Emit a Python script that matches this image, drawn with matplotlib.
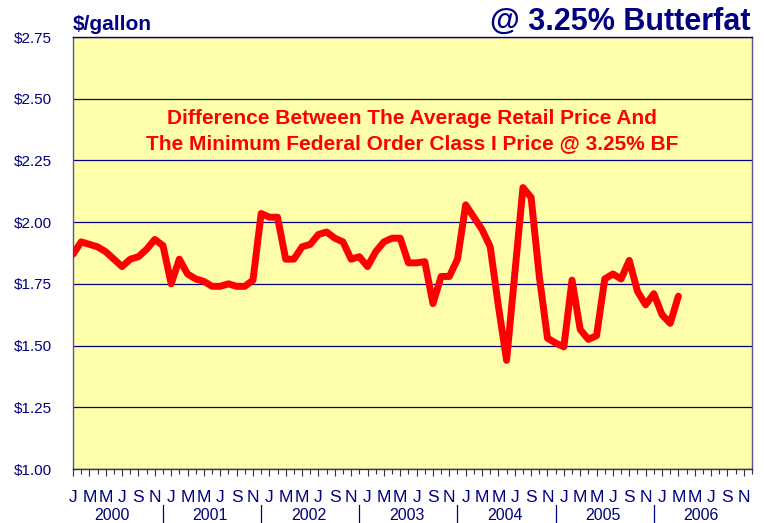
import matplotlib
matplotlib.use("Agg")
import matplotlib.pyplot as plt
import matplotlib.transforms as mtransforms
from matplotlib.lines import Line2D

# Monthly difference, Jan 2000 - Mar 2006 ($/gallon)
values = [
    1.87, 1.92, 1.91, 1.90, 1.88, 1.85, 1.82, 1.85, 1.86, 1.89, 1.93, 1.905,  # 2000
    1.75, 1.85, 1.79, 1.77, 1.76, 1.74, 1.74, 1.75, 1.74, 1.74, 1.765, 2.035,  # 2001
    2.02, 2.02, 1.85, 1.85, 1.90, 1.91, 1.95, 1.96, 1.935, 1.92, 1.85, 1.86,  # 2002
    1.82, 1.88, 1.92, 1.935, 1.935, 1.835, 1.835, 1.84, 1.67, 1.78, 1.78, 1.85,  # 2003
    2.07, 2.02, 1.97, 1.90, 1.66, 1.44, 1.79, 2.14, 2.10, 1.78, 1.53, 1.51,  # 2004
    1.495, 1.765, 1.565, 1.525, 1.54, 1.77, 1.79, 1.77, 1.845, 1.72, 1.665, 1.71,  # 2005
    1.625, 1.59, 1.70,  # 2006
]
years = ["2000", "2001", "2002", "2003", "2004", "2005", "2006"]
month_letters = ["J", "M", "M", "J", "S", "N"]
y_ticks = [1.00, 1.25, 1.50, 1.75, 2.00, 2.25, 2.50, 2.75]

NAVY = "#000080"
BG_YELLOW = "#FFFFAA"
LINE_RED = "#FF0000"

plt.rcParams['font.family'] = ['Liberation Sans', 'DejaVu Sans']

W, H = 764, 523
fig = plt.figure(figsize=(W / 100, H / 100), dpi=100)
fig.set_facecolor("white")

# axes box in pixels: left 73, right 752, top 37, bottom 469
ax = fig.add_axes([73 / W, 1 - 469 / H, (752 - 73) / W, (469 - 37) / H])
ax.set_facecolor(BG_YELLOW)

n_months = len(years) * 12
ax.plot(range(len(values)), values, color=LINE_RED, linewidth=5,
        solid_joinstyle='round', solid_capstyle='round', zorder=3)

ax.set_xlim(0, n_months - 1)
ax.set_ylim(y_ticks[0], y_ticks[-1])

# y axis
ax.set_yticks(y_ticks)
ax.set_yticklabels([f"${v:.2f}" for v in y_ticks])
ax.tick_params(axis='y', length=0, pad=15, labelsize=11, labelcolor=NAVY)
ax.grid(True, axis='y', color=NAVY, linewidth=0.9)

# x axis: a tick every month, letters on every other month
major = list(range(0, n_months, 2))
minor = list(range(1, n_months, 2))
ax.set_xticks(major)
ax.set_xticklabels(month_letters * len(years))
ax.set_xticks(minor, minor=True)
ax.tick_params(axis='x', which='major', length=5, width=0.8, color="#333333",
               pad=10, labelsize=12.5, labelcolor=NAVY)
ax.tick_params(axis='x', which='minor', length=3.5, width=0.8, color="#333333")

for side, spine in ax.spines.items():
    spine.set_color("#55559a")
    spine.set_linewidth(1)
ax.spines['top'].set_color(NAVY)
ax.spines['bottom'].set_color("#333333")

# year labels and separators under the month letters
trans = mtransforms.blended_transform_factory(ax.transData, fig.transFigure)
for k, yr in enumerate(years):
    ax.text(12 * k + 4.8, 1 - 516 / H, yr, transform=trans, ha='center',
            va='center', fontsize=11.5, color=NAVY)
    if k > 0:
        fig.add_artist(Line2D([12 * k - 1, 12 * k - 1], [1 - 505 / H, 1 - 522 / H],
                              transform=trans, color=NAVY, linewidth=0.9))

# titles
fig.text(73 / W, 1 - 30 / H, "$/gallon", fontsize=15, fontweight='bold',
         color=NAVY, ha='left', va='baseline')
fig.text(750 / W, 1 - 30 / H, "@ 3.25% Butterfat", fontsize=22, fontweight='bold',
         color=NAVY, ha='right', va='baseline')

fig.text(412 / W, 1 - 131 / H,
         "Difference Between The Average Retail Price And\n"
         "The Minimum Federal Order Class I Price @ 3.25% BF",
         fontsize=15, fontweight='bold', color=LINE_RED, ha='center', va='center',
         linespacing=1.45)

fig.savefig("out.png", dpi=100, facecolor="white")
